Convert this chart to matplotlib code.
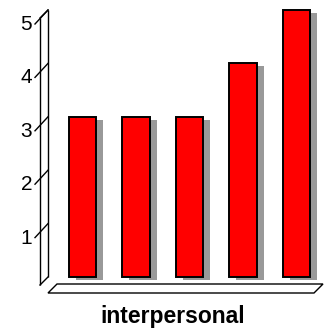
import matplotlib
matplotlib.use("Agg")
import matplotlib.pyplot as plt
import matplotlib.transforms as mtransforms
from matplotlib.patches import Polygon

categories = ["A", "B", "C", "D", "E"]
values = [3, 3, 3, 4, 5]
yticks = [1, 2, 3, 4, 5]
xlabel = "interpersonal"

DPI = 100
W, H = 332, 333
fig = plt.figure(figsize=(W / DPI, H / DPI), dpi=DPI)
fig.patch.set_facecolor("white")

# plotting area in pixels (left, top-from-top, right, bottom-from-top)
px_left, px_right = 55.75, 323.25
px_top, px_bot = 10, 277
ax = fig.add_axes([px_left / W, (H - px_bot) / H,
                   (px_right - px_left) / W, (px_bot - px_top) / H])
ax.set_xlim(-0.5, len(categories) - 0.5)
ax.set_ylim(0, 5)
ax.axis("off")

def px(dx, dy):
    # pixel offset (dy positive = downward on screen)
    return mtransforms.ScaledTranslation(dx / DPI, -dy / DPI, fig.dpi_scale_trans)

x = list(range(len(categories)))
bw = 0.505

# drop shadows
ax.bar(x, values, width=bw, color="#999999", edgecolor="none",
       transform=ax.transData + px(7, 3), zorder=2, clip_on=False)
# bars
ax.bar(x, values, width=bw, color="#ff0000", edgecolor="black",
       linewidth=1.4, zorder=3, clip_on=False)

# left wall: x in axes coords, y in data coords
wall = mtransforms.blended_transform_factory(ax.transAxes, ax.transData)
back = wall + px(48 - px_left, 0)
front = wall + px(40 - px_left, 8)
lkw = dict(color="black", lw=1.0, clip_on=False, solid_capstyle="butt")
ax.plot([0, 0], [0, 5], transform=back, **lkw)
ax.plot([0, 0], [0, 5], transform=front, **lkw)
ax.plot([0, 0], [5, 5], **lkw, transform=back)
for yv in (0, 5):
    ax.plot([0, 0], [yv, yv], transform=back, **lkw)
# diagonals joining front and back edges at top and bottom, and tick marks
for yv in (0, 5):
    p0 = back.transform((0, yv))
    p1 = front.transform((0, yv))
    fig.add_artist(plt.Line2D([p0[0], p1[0]], [p0[1], p1[1]],
                              transform=None, color="black", lw=1.0))
for t in yticks:
    p0 = back.transform((0, t))
    p1 = (p0[0] - 13, p0[1] - 14)
    fig.add_artist(plt.Line2D([p0[0], p1[0]], [p0[1], p1[1]],
                              transform=None, color="black", lw=1.0))
    ax.text(0, t, str(t), transform=wall + px(32 - px_left, 14.5),
            ha="right", va="center", fontsize=15,
            family="Liberation Sans", clip_on=False)

# floor slab
floor_tr = wall + px(0, 0)
b = ax.transData.transform((0, 0))[1]
fl_top = b - 7
fl_bot = b - 16
floor = Polygon([(48, fl_bot), (57, fl_top), (323, fl_top), (314, fl_bot)],
                closed=True, transform=None, facecolor="white",
                edgecolor="black", lw=1.0)
fig.add_artist(floor)

fig.text(172.5 / W, 1 - 317 / H, xlabel, ha="center", va="center",
         fontsize=16.5, fontweight="bold", family="Liberation Sans")

fig.savefig("out.png", dpi=DPI)
